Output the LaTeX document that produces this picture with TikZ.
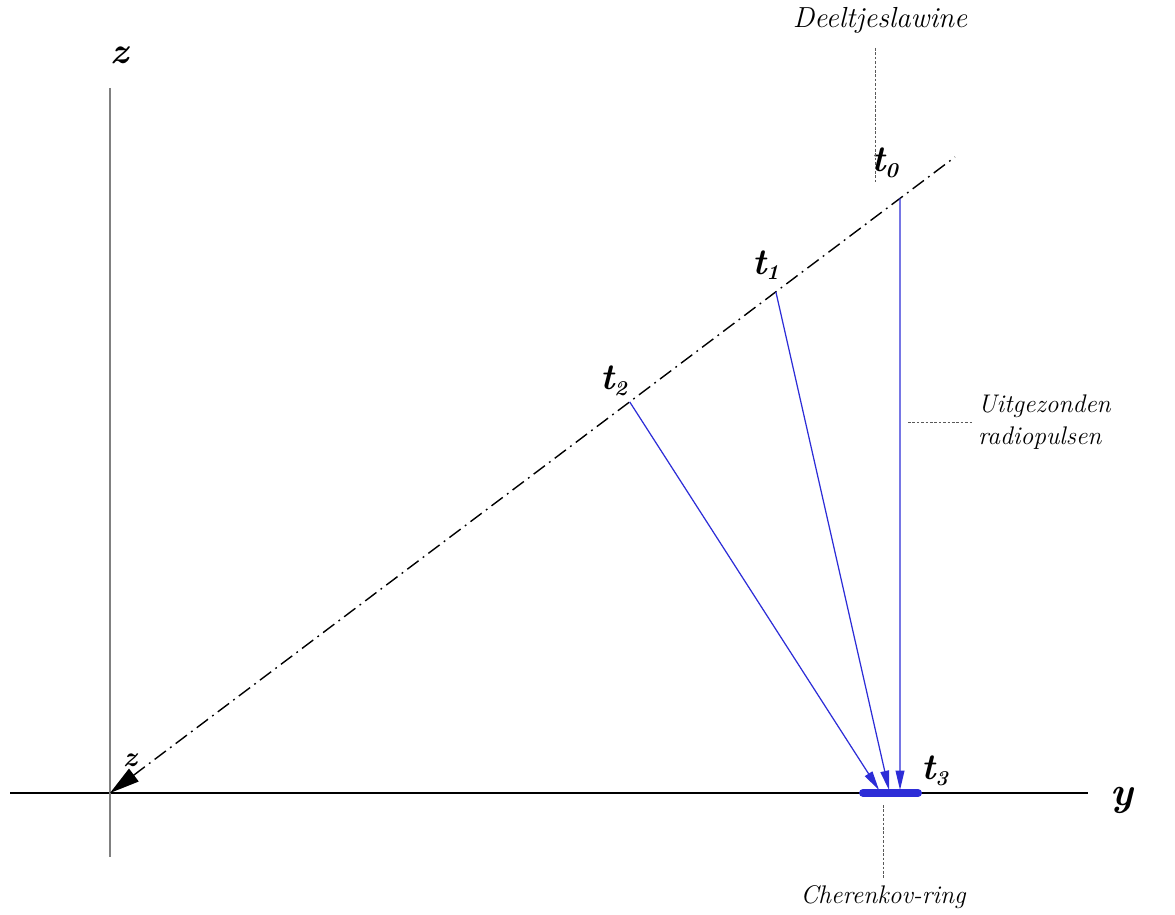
\documentclass[tikz,border=0pt]{standalone}
\usepackage{tikz}
\usetikzlibrary{arrows.meta}

\definecolor{pulseblue}{RGB}{45,45,215}

\begin{document}
\begin{tikzpicture}[x=0.02cm, y=-0.02cm,
    axis/.style={line width=0.9pt},
    shower/.style={line width=0.8pt, dash pattern=on 8pt off 3pt on 1pt off 3pt},
    pulse/.style={pulseblue, line width=0.7pt, -{Triangle[length=11pt, width=5pt]}},
    guide/.style={gray!70!black, line width=0.5pt, dash pattern=on 1.5pt off 1pt},
    lbl/.style={font=\fontsize{14.5}{18}\selectfont\itshape},
    tlbl/.style={font=\fontsize{21}{23}\selectfont\bfseries\itshape},
]
  \useasboundingbox (0,0) rectangle (1175,915);

  % Assen
  \coordinate (O) at (110,793);
  \draw[axis] (10,793) -- (1088,793);
  \draw[axis, gray] (110,88) -- (110,857);
  \node[tlbl] (zlab) at (120,55) {z};
  \node[font=\fontsize{23}{25}\selectfont\bfseries\itshape] (ylab) at (1122,800) {y};

  % Deeltjeslawine (as van de lawine)
  \coordinate (E) at (955,157);
  \draw[shower, {Triangle[length=17pt, width=9pt]}-] (O) -- (E)
    coordinate[pos=0.935] (p0)
    coordinate[pos=0.788] (p1)
    coordinate[pos=0.615] (p2);
  \node[font=\fontsize{16}{18}\selectfont\bfseries\itshape] (zsmall) at (130,760) {z};

  \node[tlbl] (t0) at (885,163) {t\textsubscript{\large 0}};
  \node[tlbl] (t1) at (766,265) {t\textsubscript{\large 1}};
  \node[tlbl] (t2) at (614,381) {t\textsubscript{\large 2}};
  \node[tlbl] (t3) at (935,771) {t\textsubscript{\large 3}};

  % Radiopulsen naar de grond
  \coordinate (r0) at (900,790);
  \coordinate (r1) at (889,790);
  \coordinate (r2) at (879,790);
  \draw[pulse] (p0) -- (r0);
  \draw[pulse] (p1) -- (r1);
  \draw[pulse] (p2) -- (r2);

  % Cherenkov-ring
  \draw[pulseblue, line width=4.5pt, line cap=round] (863,793) -- (918,793);

  % Onderschriften
  \node[font=\fontsize{16.5}{19}\selectfont\itshape] (lawine) at (880,20) {Deeltjeslawine};
  \draw[guide] (875,48) -- (875,182);
  \node[lbl, anchor=west, align=left] (pulsen) at (972,422) {Uitgezonden\\radiopulsen};
  \draw[guide] (908,422) -- (pulsen.west);
  \node[lbl] (ring) at (883,897) {Cherenkov-ring};
  \draw[guide] (883,805) -- (ring.north);
\end{tikzpicture}
\end{document}
